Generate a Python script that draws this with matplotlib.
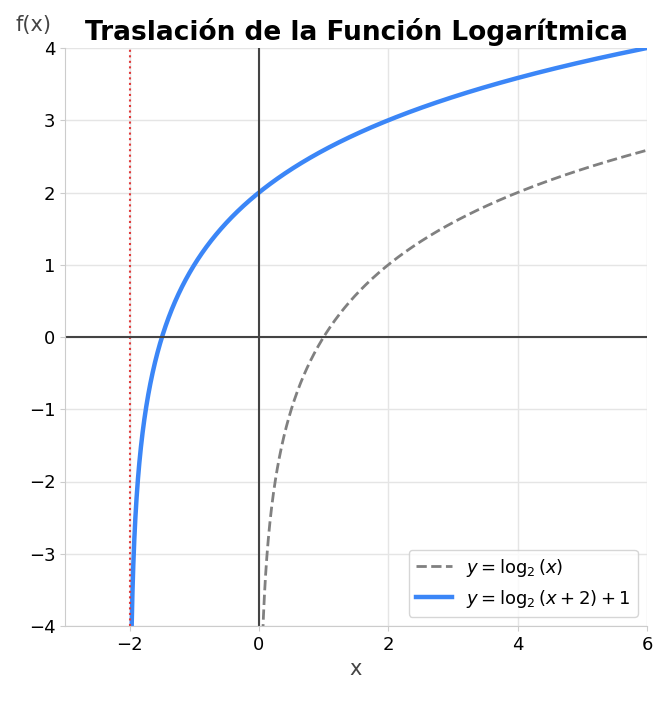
import numpy as np
import matplotlib
matplotlib.use("Agg")
import matplotlib.pyplot as plt

x_range = (-3, 6)
y_range = (-4, 4)
shift_h = 2
shift_v = 1
x_ticks = [-2, 0, 2, 4, 6]
y_ticks = [-4, -3, -2, -1, 0, 1, 2, 3, 4]

fig = plt.figure(figsize=(6.69, 7.07), dpi=100)
ax = fig.add_axes([65/669, 1-626/707, (647-65)/669, (626-48)/707])

x1 = np.linspace(1e-4, 6, 3000)
x2 = np.linspace(-shift_h + 1e-5, 6, 3000)
ax.plot(x1, np.log2(x1), ls='--', color='gray', lw=2, label=r'$y = \log_2(x)$')
ax.plot(x2, np.log2(x2 + shift_h) + shift_v, color='#3b86f7', lw=3.2, label=r'$y = \log_2(x + 2) + 1$')
ax.axvline(-shift_h, color='#e03a3a', ls=':', lw=1.5)
ax.axhline(0, color='#444444', lw=1.5)
ax.axvline(0, color='#444444', lw=1.5)

ax.set_xlim(*x_range)
ax.set_ylim(*y_range)
ax.set_xticks(x_ticks)
ax.set_yticks(y_ticks)
ax.grid(True, color='#e5e5e5', lw=1)
ax.set_axisbelow(True)
for s in ['top', 'right']:
    ax.spines[s].set_visible(False)
for s in ['left', 'bottom']:
    ax.spines[s].set_color('#cccccc')
ax.tick_params(labelsize=13, color='#cccccc')
ax.set_xlabel('x', fontsize=15, color='#444444')
fig.text(16/669, 1-25/707, 'f(x)', fontsize=15, color='#444444', va='center')
ax.set_title('Traslación de la Función Logarítmica', fontsize=19, fontweight='bold', pad=6)
ax.legend(loc='lower right', fontsize=13)
fig.savefig('out.png', dpi=100)
